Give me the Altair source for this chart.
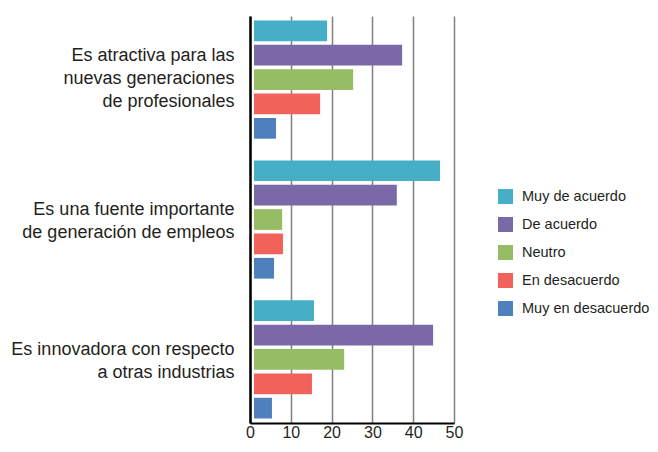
import altair as alt
import pandas as pd

categories = [
    "Es atractiva para las|nuevas generaciones|de profesionales",
    "Es una fuente importante|de generación de empleos",
    "Es innovadora con respecto|a otras industrias",
]
series = ["Muy de acuerdo", "De acuerdo", "Neutro", "En desacuerdo", "Muy en desacuerdo"]
colors = ["#46AEC6", "#7B68A6", "#96BD64", "#F0625A", "#4D80BD"]
values_cat1 = [17.9, 36.3, 24.3, 16.2, 5.4]
values_cat2 = [45.6, 35.0, 6.9, 7.1, 4.9]
values_cat3 = [14.7, 43.9, 22.1, 14.2, 4.4]
x_ticks = [0, 10, 20, 30, 40, 50]

rows = []
for cat, vals in zip(categories, [values_cat1, values_cat2, values_cat3]):
    for s, v in zip(series, vals):
        rows.append({"categoria": cat, "serie": s, "valor": v})
df = pd.DataFrame(rows)

FONT = "Liberation Sans"
TXT = "#231f20"

y_label_offset = {
    "condition": {"test": "length(split(datum.value, '|')) == 3", "value": -23.6},
    "value": -9.5,
}

chart = alt.Chart(df).mark_bar(xOffset=4, x2Offset=4).encode(
    x=alt.X("valor:Q",
            scale=alt.Scale(domain=[0, 50], nice=False),
            axis=alt.Axis(values=x_ticks, title=None, ticks=False, labelFontSize=16,
                          labelColor=TXT, labelFont=FONT, labelPadding=1,
                          domainColor="#000000", domainWidth=2,
                          grid=True, gridColor="#808080", gridWidth=1.5, labelFlush=False)),
    y=alt.Y("categoria:N", sort=categories,
            scale=alt.Scale(paddingInner=0.155, paddingOuter=0.032),
            axis=alt.Axis(title=None, ticks=False, labelFontSize=18, labelColor=TXT,
                          labelFont=FONT, labelPadding=16, labelLimit=400,
                          labelExpr="split(datum.label, '|')", labelLineHeight=23,
                          labelOffset=y_label_offset,
                          domainColor="#000000", domainWidth=2.5, grid=False)),
    yOffset=alt.YOffset("serie:N", sort=series,
                        scale=alt.Scale(paddingInner=0.15, paddingOuter=0)),
    color=alt.Color("serie:N", sort=series,
                    scale=alt.Scale(domain=series, range=colors),
                    legend=alt.Legend(title=None, orient="none", legendX=248, legendY=173,
                                      symbolType="square", symbolSize=225,
                                      symbolStrokeWidth=0, labelFontSize=14.5,
                                      labelFont=FONT, labelColor=TXT, labelOffset=9,
                                      rowPadding=12, padding=0)),
).properties(
    width=204,
    height=407,
    autosize=alt.AutoSizeParams(type="none"),
    padding={"left": 242, "top": 8, "right": 196, "bottom": 16},
).configure_view(stroke=None)

chart.save("out.html", embed_options={"renderer": "svg", "actions": False})
